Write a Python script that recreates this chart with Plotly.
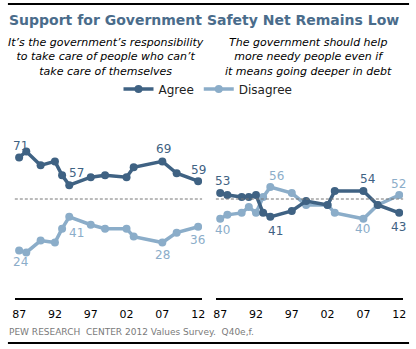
import plotly.graph_objects as go

# Survey years and shares (%) for each question
years_resp = [1987, 1988, 1990, 1992, 1993, 1994, 1997, 1999, 2002, 2003, 2007, 2009, 2012]
resp_agree = [71, 74, 67, 69, 62, 57, 61, 62, 61, 66, 69, 63, 59]
resp_disagree = [24, 23, 29, 28, 35, 41, 37, 35, 35, 31, 28, 33, 36]

years_debt = [1987, 1988, 1990, 1991, 1992, 1993, 1994, 1997, 1999, 2002, 2003, 2007, 2009, 2012]
debt_agree = [53, 52, 51, 51, 52, 43, 41, 44, 49, 47, 54, 54, 47, 43]
debt_disagree = [40, 42, 43, 46, 43, 51, 56, 53, 47, 47, 43, 40, 47, 52]

tick_years = [1987, 1992, 1997, 2002, 2007, 2012]
tick_text = ["87", "92", "97", "02", "07", "12"]

# (panel, series, year, yshift, xshift) for the value labels
labels = [
    (1, "agree", 1987, 11, 1), (1, "agree", 1994, 12, 7), (1, "agree", 2007, 12, 1), (1, "agree", 2012, 11, 0),
    (1, "disagree", 1987, -12, 1), (1, "disagree", 1994, -16, 7), (1, "disagree", 2007, -12, 0), (1, "disagree", 2012, -13, -1),
    (2, "agree", 1987, 12, 2), (2, "agree", 1994, -14, 5), (2, "agree", 2007, 12, 4), (2, "agree", 2012, -14, -1),
    (2, "disagree", 1987, -11, 2), (2, "disagree", 1994, 11, 6), (2, "disagree", 2007, -10, -1), (2, "disagree", 2012, 11, -1),
]

DARK = "#3f6283"
LIGHT = "#8badc9"
FONT = "DejaVu Sans, Verdana, sans-serif"

W, H = 416, 349

def px_x(p):
    return p / W

def px_y(p):
    return 1 - p / H

fig = go.Figure()

panels = {
    1: (years_resp, resp_agree, resp_disagree, "x", "y"),
    2: (years_debt, debt_agree, debt_disagree, "x2", "y2"),
}

for key, (yrs, ag, dis, xa, ya) in panels.items():
    fig.add_trace(go.Scatter(
        x=yrs, y=dis, mode="lines+markers", name="Disagree",
        line=dict(color=LIGHT, width=3.5), marker=dict(color=LIGHT, size=8),
        xaxis=xa, yaxis=ya, showlegend=(key == 1), legendrank=2,
    ))
    fig.add_trace(go.Scatter(
        x=yrs, y=ag, mode="lines+markers", name="Agree",
        line=dict(color=DARK, width=3.5), marker=dict(color=DARK, size=8),
        xaxis=xa, yaxis=ya, showlegend=(key == 1), legendrank=1,
    ))

for panel, series, yr, ys, xs in labels:
    yrs, ag, dis, xa, ya = panels[panel]
    vals = ag if series == "agree" else dis
    v = vals[yrs.index(yr)]
    fig.add_annotation(
        x=yr, y=v, xref=xa, yref=ya, text=str(v), showarrow=False,
        xshift=xs, yshift=ys,
        font=dict(family=FONT, size=12, color=DARK if series == "agree" else LIGHT),
    )

xr = [1986.4, 2012.55]
axis_common = dict(
    range=xr, showgrid=False, zeroline=False, showline=True, linecolor="black",
    linewidth=2, ticks="", tickvals=tick_years, ticktext=tick_text,
    tickfont=dict(family=FONT, size=11, color="black"), ticklabelstandoff=5,
)
yaxis_common = dict(range=[0, 100], showgrid=False, zeroline=False,
                    showticklabels=False, showline=False)

fig.update_layout(
    width=W, height=H,
    margin=dict(l=0, r=0, t=0, b=0),
    paper_bgcolor="white", plot_bgcolor="white",
    xaxis=dict(domain=[px_x(12), px_x(202)], anchor="y", **axis_common),
    xaxis2=dict(domain=[px_x(216), px_x(406)], anchor="y2", **axis_common),
    yaxis=dict(domain=[px_y(298), px_y(100)], anchor="x", **yaxis_common),
    yaxis2=dict(domain=[px_y(298), px_y(100)], anchor="x2", **yaxis_common),
    showlegend=True,
    legend=dict(
        orientation="h", x=0.5, xanchor="center", y=px_y(89), yanchor="middle",
        font=dict(family=FONT, size=12, color="#222"), itemwidth=30,
        bgcolor="rgba(0,0,0,0)", traceorder="normal",
    ),
)

# 50% reference lines
for xa, ya in (("x", "y"), ("x2", "y2")):
    fig.add_shape(type="line", xref=f"{xa} domain", yref=ya, x0=0, x1=1, y0=50, y1=50,
                  line=dict(color="#777777", width=1, dash="3px,2px"))

# Top and bottom rules
fig.add_shape(type="line", xref="paper", yref="paper", x0=px_x(5), x1=px_x(412),
              y0=px_y(4), y1=px_y(4), line=dict(color="black", width=2))
fig.add_shape(type="line", xref="paper", yref="paper", x0=px_x(5), x1=px_x(412),
              y0=px_y(343), y1=px_y(343), line=dict(color="black", width=2))

# Title
fig.add_annotation(
    x=px_x(4), y=px_y(20), xref="paper", yref="paper", xanchor="left", yanchor="middle",
    text="<b>Support for Government Safety Net Remains Low</b>", showarrow=False,
    font=dict(family=FONT, size=14, color="#4a6c8b"),
)

# Panel subtitles
fig.add_annotation(
    x=px_x(105), y=px_y(57), xref="paper", yref="paper", xanchor="center", yanchor="middle",
    text="<i>It’s the government’s responsibility<br>to take care of people who can’t<br>take care of themselves</i>",
    showarrow=False, align="center",
    font=dict(family=FONT, size=11, color="black"),
)
fig.add_annotation(
    x=px_x(310), y=px_y(57), xref="paper", yref="paper", xanchor="center", yanchor="middle",
    text="<i>The government should help<br>more needy people even if<br>it means going deeper in debt</i>",
    showarrow=False, align="center",
    font=dict(family=FONT, size=11, color="black"),
)

# Source line
fig.add_annotation(
    x=px_x(4), y=px_y(332), xref="paper", yref="paper", xanchor="left", yanchor="middle",
    text="PEW RESEARCH\u00a0 CENTER 2012 Values Survey.\u00a0 Q40e,f.", showarrow=False,
    font=dict(family=FONT, size=9, color="#7a7a7a"),
)

fig.write_html("out.html")
